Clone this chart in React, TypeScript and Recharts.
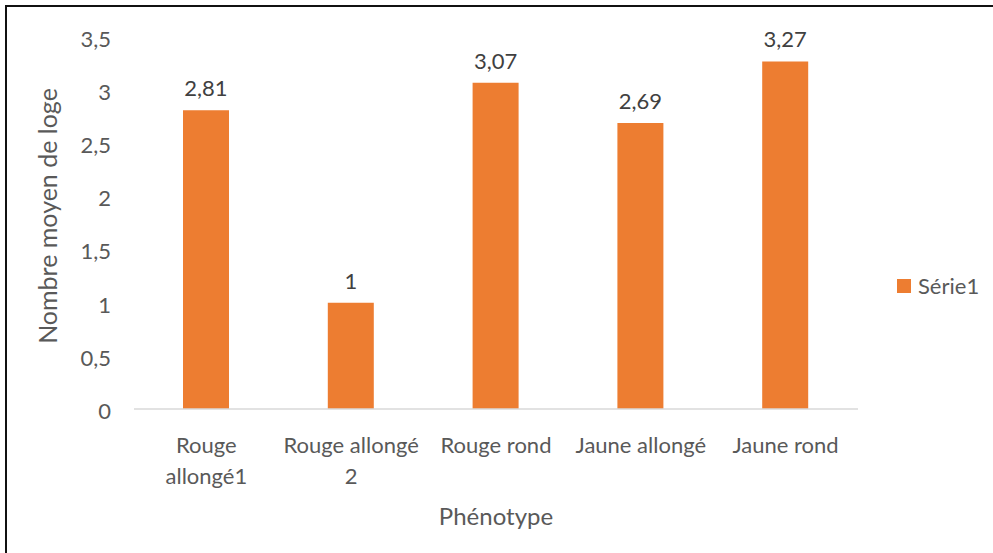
import React from "react"
import { Bar, BarChart, LabelList, Legend, XAxis, YAxis } from "recharts"

const categories = ["Rouge allongé1", "Rouge allongé 2", "Rouge rond", "Jaune allongé", "Jaune rond"]
// how Excel wrapped the tick labels
const tickLines: Record<string, string[]> = {
  "Rouge allongé1": ["Rouge", "allongé1"],
  "Rouge allongé 2": ["Rouge allongé", "2"],
}
const serie1 = [2.81, 1, 3.07, 2.69, 3.27]
const yTicks = [0, 0.5, 1, 1.5, 2, 2.5, 3, 3.5]
const seriesName = "Série1"
const xTitle = "Phénotype"
const yTitle = "Nombre moyen de loge"

const data = categories.map((name, i) => ({ name, value: serie1[i] }))

const FONT = "Lato, 'Open Sans', sans-serif"
const FS = 22
const ORANGE = "#ED7D31"
const fmt = (v: number) => String(v).replace(".", ",")

const CategoryTick = (props: any) => {
  const { x, y, payload } = props
  const lines = tickLines[payload.value] ?? [payload.value]
  return (
    <text x={x} y={y} textAnchor="middle" fill="#595959" fontSize={FS} fontFamily={FONT}>
      {lines.map((l, i) => (
        <tspan key={i} x={x} dy={i === 0 ? 36 : 31}>{l}</tspan>
      ))}
    </text>
  )
}

const LegendBox = () => (
  <div style={{ display: "flex", alignItems: "center", fontFamily: FONT, fontSize: FS, color: "#595959" }}>
    <span style={{ width: 14, height: 14, background: ORANGE, display: "inline-block", marginRight: 7 }} />
    {seriesName}
  </div>
)

export default function App() {
  return (
    <div style={{ position: "absolute", top: 0, left: 0, width: 993, height: 553, background: "#fff" }}>
      <div style={{ position: "absolute", top: 5, left: 5, right: 0, bottom: 0, borderTop: "2px solid #111", borderLeft: "2px solid #111" }} />
      <BarChart width={993} height={553} data={data} margin={{ top: 37, right: 35, left: 34, bottom: 84 }} style={{ position: "absolute", top: 0, left: 0 }}>
        <XAxis
          dataKey="name"
          height={60}
          tick={<CategoryTick />}
          tickLine={false}
          axisLine={{ stroke: "#d9d9d9", strokeWidth: 1.5 }}
          label={{ content: () => <text x={496} y={525} textAnchor="middle" fill="#595959" fontSize={24} fontFamily={FONT}>{xTitle}</text> }}
        />
        <YAxis
          width={100}
          domain={[0, 3.5]}
          ticks={yTicks}
          tickFormatter={fmt}
          tickLine={false}
          axisLine={false}
          tickMargin={17}
          tick={{ fill: "#595959", fontSize: FS, fontFamily: FONT, dy: 2 }}
          label={{ content: () => <text x={57} y={216} transform="rotate(-90 57 216)" textAnchor="middle" fill="#595959" fontSize={25} fontFamily={FONT}>{yTitle}</text> }}
        />
        <Legend
          layout="vertical"
          align="right"
          verticalAlign="top"
          content={<LegendBox />}
          wrapperStyle={{ left: 897, top: 272, width: 100 }}
        />
        <Bar dataKey="value" name={seriesName} fill={ORANGE} barSize={46} isAnimationActive={false}>
          <LabelList dataKey="value" position="top" offset={14} formatter={(v: any) => fmt(v)} fill="#404040" fontSize={FS} fontFamily={FONT} />
        </Bar>
      </BarChart>
    </div>
  )
}
